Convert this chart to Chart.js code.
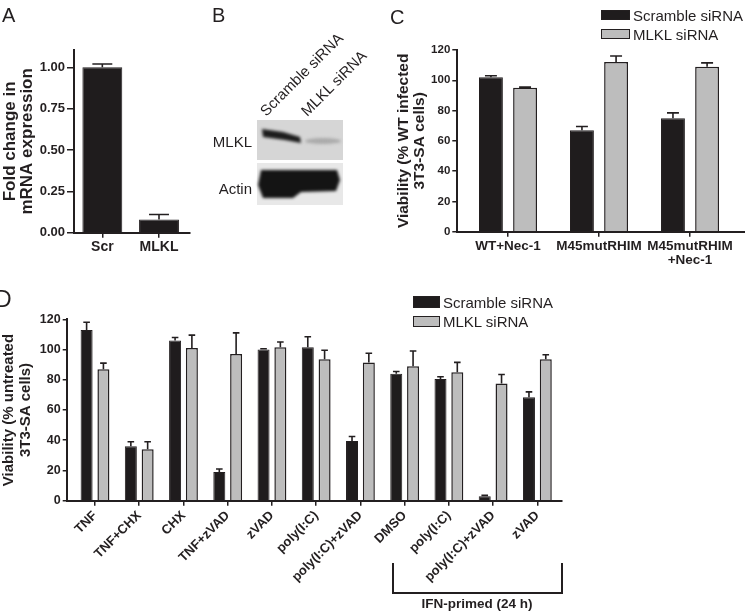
<!DOCTYPE html>
<html>
<head>
<meta charset="utf-8">
<script src="https://cdn.jsdelivr.net/npm/chart.js@4.4.0/dist/chart.umd.min.js"></script>
<style>
  body { margin: 0; background: #fff; }
  #fig { position: relative; width: 745px; height: 614px; overflow: hidden;
         font-family: 'Liberation Sans', Arial, sans-serif; color: #231f20; }
  #fig canvas { position: absolute; }
  .txt { position: absolute; white-space: nowrap; }
  .letter { font-size: 20px; line-height: 20px; }
  .leg { font-size: 15px; line-height: 15px; }
  .box { position: absolute; box-sizing: border-box; border: 1.5px solid #231f20; }
</style>
</head>
<body>
<div id="fig">
  <canvas id="chartA" width="205" height="270" style="left:0;top:0"></canvas>
  <canvas id="blot" width="90" height="90" style="left:255px;top:118px"></canvas>
  <canvas id="chartC" width="365" height="290" style="left:380px;top:0"></canvas>
  <canvas id="chartD" width="745" height="329" style="left:0;top:285px"></canvas>

  <!-- panel letters -->
  <div class="txt letter" style="left:2px;top:5px">A</div>
  <div class="txt letter" style="left:212px;top:5px">B</div>
  <div class="txt letter" style="left:390px;top:7px">C</div>
  <div class="txt" style="left:-5px;top:288px;font-size:23px;line-height:23px">D</div>

  <!-- panel B labels -->
  <div class="txt leg" style="left:266px;top:104px;transform-origin:0 12.7px;transform:rotate(-45deg)">Scramble siRNA</div>
  <div class="txt leg" style="left:307px;top:104px;transform-origin:0 12.7px;transform:rotate(-45deg)">MLKL siRNA</div>
  <div class="txt leg" style="left:0;width:252px;text-align:right;top:133.5px">MLKL</div>
  <div class="txt leg" style="left:0;width:252px;text-align:right;top:180.5px">Actin</div>

  <!-- panel C legend -->
  <div class="box" style="left:601px;top:10px;width:29px;height:10px;background:#1f1c1d"></div>
  <div class="txt leg" style="left:633px;top:7.5px">Scramble siRNA</div>
  <div class="box" style="left:601px;top:29px;width:29px;height:10px;background:#bdbdbd"></div>
  <div class="txt leg" style="left:633px;top:26.5px">MLKL siRNA</div>

  <!-- panel D legend and bracket -->
  <div class="box" style="left:413px;top:296px;width:27px;height:11.5px;background:#1f1c1d"></div>
  <div class="txt leg" style="left:443px;top:294.5px">Scramble siRNA</div>
  <div class="box" style="left:413px;top:316px;width:27px;height:10.5px;background:#bdbdbd"></div>
  <div class="txt leg" style="left:443px;top:313.5px">MLKL siRNA</div>
  <div style="position:absolute;left:391.5px;top:563px;width:171px;height:31px;box-sizing:border-box;border:2px solid #231f20;border-top:none"></div>
  <div class="txt" style="left:391.5px;width:171px;text-align:center;top:596.5px;font-size:13.5px;line-height:13.5px;font-weight:bold">IFN-primed (24 h)</div>
</div>

<script>
// Panel A: MLKL mRNA knockdown
const catsA = ['Scr', 'MLKL'];
const foldA = [1.00, 0.08];
const semA = [0.02, 0.03];
const yTicksA = [0, 0.25, 0.5, 0.75, 1.0];

// Panel C: viability after infection
const catsC = ['WT+Nec-1', 'M45mutRHIM', ['M45mutRHIM', '+Nec-1']];
const scrC = [102, 67, 75];
const scrSemC = [1, 2.5, 3.5];
const mlklC = [95, 112, 109];
const mlklSemC = [0.5, 4, 2.5];
const yTicksC = [0, 20, 40, 60, 80, 100, 120];

// Panel D: viability after treatments
const catsD = ['TNF', 'TNF+CHX', 'CHX', 'TNF+zVAD', 'zVAD', 'poly(I:C)', 'poly(I:C)+zVAD',
               'DMSO', 'poly(I:C)', 'poly(I:C)+zVAD', 'zVAD'];
const scrD = [113, 36, 106, 19, 100, 101.5, 39.5, 84, 80.5, 3, 68.5];
const scrSemD = [5, 3, 2, 2, 0.5, 7, 3, 1.5, 1.5, 0.5, 3.5];
const mlklD = [87, 34, 101, 97, 101.5, 93.5, 91.5, 89, 85, 77.5, 93.5];
const mlklSemD = [4, 5, 8.5, 14, 3.5, 6, 6, 10, 6.5, 6, 3];
const yTicksD = [0, 20, 40, 60, 80, 100, 120];

const ink = '#231f20';
const fam = "'Liberation Sans', Arial, sans-serif";
const blackFill = '#1f1c1d';
const greyFill = '#bdbdbd';

// draws mean + SEM whiskers (upper only) on top of each bar
const errorBars = {
  id: 'errorBars',
  afterDatasetsDraw(chart, args, opts) {
    const ctx = chart.ctx;
    const yScale = chart.scales.y;
    ctx.save();
    ctx.strokeStyle = ink;
    ctx.lineWidth = 1.6;
    chart.data.datasets.forEach((ds, di) => {
      chart.getDatasetMeta(di).data.forEach((bar, i) => {
        const top = yScale.getPixelForValue(ds.data[i].y + ds.errors[i]);
        const cap = bar.width * opts.cap / 2;
        ctx.beginPath();
        ctx.moveTo(bar.x, bar.y);
        ctx.lineTo(bar.x, top);
        ctx.moveTo(bar.x - cap, top);
        ctx.lineTo(bar.x + cap, top);
        ctx.stroke();
      });
    });
    ctx.restore();
  }
};

function yAxis(ticks, max, o) {
  return {
    min: 0, max: max,
    afterBuildTicks: s => { s.ticks = ticks.map(v => ({ value: v })); },
    afterFit: s => { s.width = o.width; },
    border: { display: true, color: ink, width: 2 },
    grid: { drawOnChartArea: false, drawTicks: true, tickLength: o.tickLen, color: ink, lineWidth: 1.5 },
    ticks: { color: ink, padding: 2, font: { family: fam, size: o.size, weight: 'bold' }, callback: o.fmt },
    title: {
      display: true, text: o.title, color: ink, padding: { top: o.titlePad, bottom: 0 },
      font: { family: fam, size: o.titleSize, weight: 'bold', lineHeight: o.titleLh }
    }
  };
}

function xAxis(cats, min, max, o) {
  return {
    type: 'linear', min: min, max: max, offset: false,
    afterBuildTicks: s => { s.ticks = cats.map((c, i) => ({ value: i })); },
    afterFit: s => { s.height = o.height; },
    border: { display: true, color: ink, width: 2 },
    grid: { offset: false, drawOnChartArea: false, drawTicks: true, tickLength: 5, color: ink, lineWidth: 1.5 },
    ticks: {
      autoSkip: false, maxRotation: o.rot, minRotation: o.rot, padding: o.pad, color: ink,
      font: { family: fam, size: o.size, weight: 'bold', lineHeight: 1.05 },
      callback: (v, i) => cats[i]
    }
  };
}

function barChart(id, sets, o) {
  return new Chart(document.getElementById(id), {
    type: 'bar',
    data: {
      datasets: sets.map(s => ({
        data: s.values.map((v, i) => ({ x: i, y: v })),
        errors: s.errors,
        backgroundColor: s.fill,
        borderColor: ink,
        borderWidth: s.border,
        categoryPercentage: o.catPct,
        barPercentage: o.barPct
      }))
    },
    options: {
      responsive: false,
      animation: false,
      devicePixelRatio: 1,
      layout: { padding: o.padding },
      plugins: { legend: { display: false }, tooltip: { enabled: false }, errorBars: { cap: o.cap } },
      scales: { x: o.x, y: o.y }
    },
    plugins: [errorBars]
  });
}

barChart('chartA', [
  { values: foldA, errors: semA, fill: blackFill, border: 1 }
], {
  padding: { left: 0, top: 50, right: 15, bottom: 0 },
  catPct: 0.8, barPct: 0.88, cap: 0.5,
  x: xAxis(catsA, -0.5, 1.547, { height: 37.3, rot: 0, pad: 2, size: 14 }),
  y: yAxis(yTicksA, 1.105, { width: 74, tickLen: 7, size: 13, fmt: v => v.toFixed(2),
    title: ['Fold change in', 'mRNA expression'], titleSize: 17, titleLh: 1.0, titlePad: 2 })
});

barChart('chartC', [
  { values: scrC, errors: scrSemC, fill: blackFill, border: 1 },
  { values: mlklC, errors: mlklSemC, fill: greyFill, border: 1.5 }
], {
  padding: { left: 0, top: 50, right: 0, bottom: 0 },
  catPct: 0.75, barPct: 0.7, cap: 0.5,
  x: xAxis(catsC, -0.557, 2.604, { height: 58.3, rot: 0, pad: 2, size: 13.5 }),
  y: yAxis(yTicksC, 120, { width: 77.3, tickLen: 5, size: 11.5, fmt: v => v,
    title: ['Viability (% WT infected', '3T3-SA cells)'], titleSize: 15.5, titleLh: 1.06, titlePad: 15.5 })
});

barChart('chartD', [
  { values: scrD, errors: scrSemD, fill: blackFill, border: 1 },
  { values: mlklD, errors: mlklSemD, fill: greyFill, border: 1.5 }
], {
  padding: { left: 0, top: 34.3, right: 183.3, bottom: 0 },
  catPct: 0.76, barPct: 0.714, cap: 0.55,
  x: xAxis(catsD, -0.64, 10.55, { height: 113.3, rot: 45, pad: 3, size: 13 }),
  y: yAxis(yTicksD, 120, { width: 66.7, tickLen: 4, size: 12.5, fmt: v => v,
    title: ['Viability (% untreated', '3T3-SA cells)'], titleSize: 15, titleLh: 1.15, titlePad: 0 })
});

// Panel B: western blot picture (not data, just painted)
function drawBlot() {
  const g = document.getElementById('blot').getContext('2d');
  g.fillStyle = '#d6d6d6';
  g.fillRect(2, 2, 86, 40);
  g.fillStyle = '#e8e8e8';
  g.fillRect(2, 45, 86, 42);
  g.filter = 'blur(1.5px)';
  // MLKL band, strong in scramble lane
  g.fillStyle = '#1c1c1c';
  g.beginPath();
  g.moveTo(7, 11); g.lineTo(28, 14); g.lineTo(45, 19); g.lineTo(46, 25);
  g.lineTo(30, 22); g.lineTo(8, 19); g.closePath(); g.fill();
  // faint band in knockdown lane
  g.fillStyle = '#aaaaaa';
  g.beginPath(); g.ellipse(68, 23, 18, 3, 0, 0, Math.PI * 2); g.fill();
  // actin bands
  g.fillStyle = '#141414';
  g.beginPath();
  g.moveTo(6, 52); g.lineTo(82, 52); g.lineTo(85, 62); g.lineTo(81, 73);
  g.lineTo(46, 74); g.lineTo(38, 80); g.lineTo(8, 80); g.lineTo(3, 67); g.closePath(); g.fill();
  g.filter = 'none';
}
drawBlot();
</script>
</body>
</html>
